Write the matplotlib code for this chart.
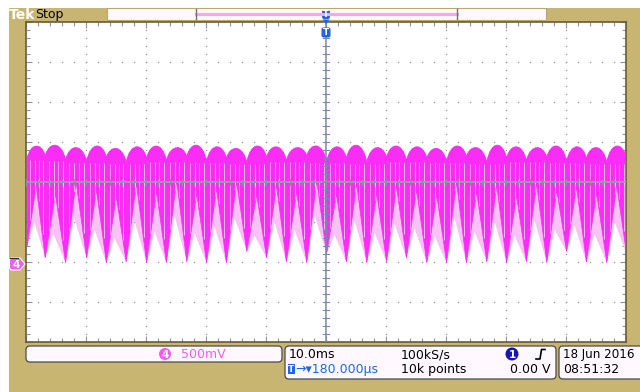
import matplotlib
matplotlib.use('Agg')
import matplotlib.pyplot as plt
from matplotlib.patches import FancyBboxPatch, Rectangle, Polygon, PathPatch, Circle
from matplotlib.path import Path
import numpy as np

# ---------------- data (read from the screen) ----------------
# times (ms) of the V-shaped minima of the trace
tip_t = [-49.8, -46.8, -43.4, -39.9, -36.6, -33.3, -29.9, -26.6, -23.2, -19.9,
         -16.6, -13.2, -9.9, -6.6, -3.2, 0.1, 3.4, 6.8, 10.1, 13.4,
         16.8, 20.1, 23.4, 26.8, 30.1, 33.4, 36.8, 40.1, 43.4, 46.8, 50.1]
# voltage at those minima (V)
tip_v = [0.20, 0.05, -0.01, 0.05, -0.01, 0.00, -0.01, -0.01, 0.00, -0.01,
         -0.01, 0.13, 0.05, 0.00, -0.01, 0.10, 0.00, -0.01, 0.00, 0.05,
         -0.01, -0.01, -0.01, 0.00, -0.01, 0.00, -0.01, 0.13, 0.00, -0.01, 0.10]
# upper envelope: notch value at each minimum time, and arch top between minima
dip_v = [1.30, 1.33, 1.28, 1.26, 1.31, 1.25, 1.30, 1.27, 1.32, 1.26, 1.30,
         1.25, 1.31, 1.27, 1.33, 1.26, 1.30, 1.25, 1.31, 1.27, 1.30, 1.26,
         1.32, 1.25, 1.30, 1.27, 1.31, 1.26, 1.30, 1.25, 1.30]
peak_v = [1.45, 1.46, 1.43, 1.45, 1.42, 1.44, 1.45, 1.43, 1.46, 1.44,
          1.42, 1.45, 1.44, 1.43, 1.45, 1.44, 1.46, 1.43, 1.45, 1.44,
          1.42, 1.45, 1.43, 1.46, 1.44, 1.43, 1.45, 1.44, 1.43, 1.45]
# lower edge of the dense (solid) trace between minima
gap_v = [0.95, 0.85, 1.00, 0.90, 0.82, 0.98, 0.88, 1.02, 0.86, 0.92,
         1.00, 0.84, 0.96, 0.88, 1.02, 0.85, 0.98, 0.86, 0.95, 0.90,
         0.84, 1.00, 0.88, 0.96, 0.83, 0.98, 0.90, 0.94, 0.86, 0.96]
# lower edge of the sparse (pale) dots between minima
pale_v = [0.50, 0.35, 0.55, 0.40, 0.30, 0.52, 0.38, 0.58, 0.36, 0.44,
          0.55, 0.33, 0.50, 0.40, 0.58, 0.34, 0.52, 0.36, 0.48, 0.42,
          0.32, 0.55, 0.38, 0.50, 0.33, 0.52, 0.40, 0.46, 0.35, 0.50]

ch_label = "4"
ch_scale = "500mV"
time_div = "10.0ms"
sample_rate = "100kS/s"
trig_pos = "180.000µs"
rec_len = "10k points"
trig_level = "0.00 V"
date_str = "18 Jun 2016"
time_str = "08:51:32"

# ---------------- style ----------------
W, H = 640, 392
TAN = '#C8B572'
MAG = '#FA2CF5'
PALE = '#F8C2F6'
BLUE = '#1F66E0'
GRID = '#8E90A8'
STREAK_FRAC = [0.18, 0.42, 0.63, 0.86]   # texture streak positions within a period


def fx(x):
    return x / W


def fy(y):
    return 1 - y / H


fig = plt.figure(figsize=(6.4, 3.92), dpi=100)
fig.patch.set_facecolor('white')

bg = fig.add_axes([0, 0, 1, 1], zorder=0)
bg.set_xlim(0, W)
bg.set_ylim(H, 0)
bg.axis('off')
bg.add_patch(Rectangle((9, 8), W - 9, H - 8, color=TAN, lw=0))

# ---------------- plot area ----------------
ax = fig.add_axes([fx(26), fy(342), 600 / W, 320 / H], zorder=1)
ax.set_facecolor('white')
ax.set_xlim(-50, 50)
ax.set_ylim(-1, 3)
for s in ax.spines.values():
    s.set_color('#6A5A36')
    s.set_linewidth(1.2)
ax.set_xticks(np.arange(-50, 51, 10))
ax.set_xticks(np.arange(-50, 51, 2), minor=True)
ax.set_yticks(np.arange(-1, 3.01, 0.5))
ax.set_yticks(np.arange(-1, 3.01, 0.1), minor=True)
ax.tick_params(which='both', direction='in', top=True, right=True,
               labelbottom=False, labelleft=False, color=GRID, width=0.8)
ax.tick_params(which='major', length=4)
ax.tick_params(which='minor', length=3)

for xv in [-40, -30, -20, -10, 10, 20, 30, 40]:
    yy = np.arange(-1, 3.001, 0.1)
    ax.plot([xv] * len(yy), yy, ls='none', marker='s', ms=0.9, mew=0,
            color=GRID, zorder=1)
for yv in [-0.5, 0, 0.5, 1.5, 2.0, 2.5]:
    xx = np.arange(-50, 50.01, 2)
    ax.plot(xx, [yv] * len(xx), ls='none', marker='s', ms=0.9, mew=0,
            color=GRID, zorder=1)


def trace_path(lower, apex_frac):
    verts = [(tip_t[0], dip_v[0])]
    codes = [Path.MOVETO]
    for k in range(len(tip_t) - 1):
        t0, t1 = tip_t[k], tip_t[k + 1]
        P = t1 - t0
        c = (peak_v[k] - 0.125 * (dip_v[k] + dip_v[k + 1])) / 0.75
        verts += [(t0 + 0.2 * P, c), (t1 - 0.2 * P, c), (t1, dip_v[k + 1])]
        codes += [Path.CURVE4] * 3
    n = len(tip_t)
    verts.append((tip_t[n - 1], tip_v[n - 1]))
    codes.append(Path.LINETO)
    for k in range(n - 2, -1, -1):
        tm = tip_t[k] + apex_frac * (tip_t[k + 1] - tip_t[k])
        verts.append((tm, lower[k]))
        codes.append(Path.LINETO)
        verts.append((tip_t[k], tip_v[k]))
        codes.append(Path.LINETO)
    verts.append((tip_t[0], dip_v[0]))
    codes.append(Path.CLOSEPOLY)
    return Path(verts, codes)


ax.add_patch(PathPatch(trace_path(pale_v, 0.4), facecolor=PALE, edgecolor='none',
                       zorder=2))
ax.add_patch(PathPatch(trace_path(gap_v, 0.5), facecolor=MAG, edgecolor=MAG,
                       lw=0.5, zorder=3))

# pale vertical streaks (display texture) inside the dense band
for k in range(len(tip_t) - 1):
    t0, t1 = tip_t[k], tip_t[k + 1]
    for j, f in enumerate(STREAK_FRAC):
        ts = t0 + f * (t1 - t0)
        if f <= 0.5:
            vlo = tip_v[k] + (gap_v[k] - tip_v[k]) * f / 0.5
        else:
            vlo = tip_v[k + 1] + (gap_v[k] - tip_v[k + 1]) * (1 - f) / 0.5
        ax.plot([ts, ts], [vlo + 0.05, min(dip_v[k], dip_v[k + 1]) - 0.02],
                color='#FBD4FA', lw=0.7, alpha=0.85 if j % 2 else 0.6,
                zorder=3.5, solid_capstyle='butt')

ax.axvline(0, color='#7C88A8', lw=1.1, zorder=4)
ax.axhline(1.0, color='#9A9AAE', lw=1.4, zorder=4)
for yv in np.arange(-1, 3.001, 0.1):
    ax.plot([-0.45, 0.45], [yv, yv], color='#7C88A8', lw=0.8, zorder=4)
for xv in np.arange(-50, 50.01, 2):
    ax.plot([xv, xv], [0.96, 1.04], color='#8E90A8', lw=0.8, zorder=4)

# ---------------- top overlay ----------------
ov = fig.add_axes([0, 0, 1, 1], zorder=5)
ov.set_xlim(0, W)
ov.set_ylim(H, 0)
ov.axis('off')
ov.patch.set_alpha(0)

ov.text(9, 14.5, "Tek", fontsize=10, fontweight='bold', color='white',
        va='center', ha='left')
ov.text(35, 14.5, "Stop", fontsize=9, color='black', va='center', ha='left')

ov.add_patch(Rectangle((107, 8), 439, 12, facecolor='#FFF8FF',
                       edgecolor='#B9A868', lw=0.8))
ov.plot([196, 457], [14, 14], color='#F4A6F2', lw=2.2)
ov.plot([196, 196], [9, 19], color='#707070', lw=1)
ov.plot([457, 457], [9, 19], color='#707070', lw=1)
ov.add_patch(FancyBboxPatch((322, 10), 8, 9, boxstyle='round,pad=0,rounding_size=2',
                            facecolor=BLUE, edgecolor='none'))
ov.text(326, 14.5, "T", color='white', fontsize=6, fontweight='bold',
        ha='center', va='center')
ov.add_patch(Polygon([(322.5, 19.5), (329.5, 19.5), (326, 24)], closed=True,
                     facecolor=BLUE, edgecolor='none'))
ov.add_patch(FancyBboxPatch((321.5, 27.5), 9, 10, boxstyle='round,pad=0,rounding_size=2',
                            facecolor=BLUE, edgecolor='none'))
ov.text(326, 32.8, "T", color='white', fontsize=6.5, fontweight='bold',
        ha='center', va='center')

ov.add_patch(Polygon([(11, 258), (20, 258), (25, 264), (20, 270), (11, 270),
                      (9.5, 268), (9.5, 260)], closed=True,
                     facecolor='#F25CF0', edgecolor='white', lw=0.8))
ov.plot([10, 18], [257.5, 257.5], color='#303030', lw=0.8)
ov.text(16, 264.5, ch_label, color='white', fontsize=7.5, fontweight='bold',
        ha='center', va='center')


def rbox(x0, y0, x1, y1):
    ov.add_patch(FancyBboxPatch((x0, y0), x1 - x0, y1 - y0,
                                boxstyle='round,pad=0,rounding_size=4',
                                facecolor='#FFF9FF', edgecolor='#4A4A4A', lw=0.9))


rbox(26, 346, 282, 362)
rbox(285, 346, 556, 379)
rbox(559, 346, 648, 379)

FS = 9.0
ov.add_patch(Circle((165, 354), 6, facecolor='#F25CF0', edgecolor='none'))
ov.text(165, 354.5, ch_label, color='white', fontsize=7.5, fontweight='bold',
        ha='center', va='center')
ov.text(181, 354.5, ch_scale, color='#F25CF0', fontsize=FS, ha='left', va='center')

ov.text(289, 354.5, time_div, color='black', fontsize=FS, ha='left', va='center')
ov.text(401, 354.5, sample_rate, color='black', fontsize=FS, ha='left', va='center')
ov.add_patch(Circle((512, 354), 6.5, facecolor='#1414B8', edgecolor='none'))
ov.text(512, 354.5, "1", color='white', fontsize=7.5, fontweight='bold',
        ha='center', va='center')
ov.plot([536, 540, 541.5, 545], [359, 359, 349.5, 349.5], color='black', lw=1.2)

ov.add_patch(Rectangle((287.5, 364), 7, 10, facecolor=BLUE, edgecolor='none'))
ov.text(291, 369.3, "T", color='white', fontsize=6.5, fontweight='bold',
        ha='center', va='center')
ov.text(295, 369.5, "→▾" + trig_pos, color=BLUE, fontsize=FS, ha='left', va='center')
ov.text(401, 369.5, rec_len, color='black', fontsize=FS, ha='left', va='center')
ov.text(551, 369.5, trig_level, color='black', fontsize=FS, ha='right', va='center')

ov.text(563, 354.5, date_str, color='black', fontsize=8.6, ha='left', va='center')
ov.text(563, 369.5, time_str, color='black', fontsize=FS, ha='left', va='center')

fig.savefig('out.png', dpi=100, facecolor=fig.get_facecolor())
